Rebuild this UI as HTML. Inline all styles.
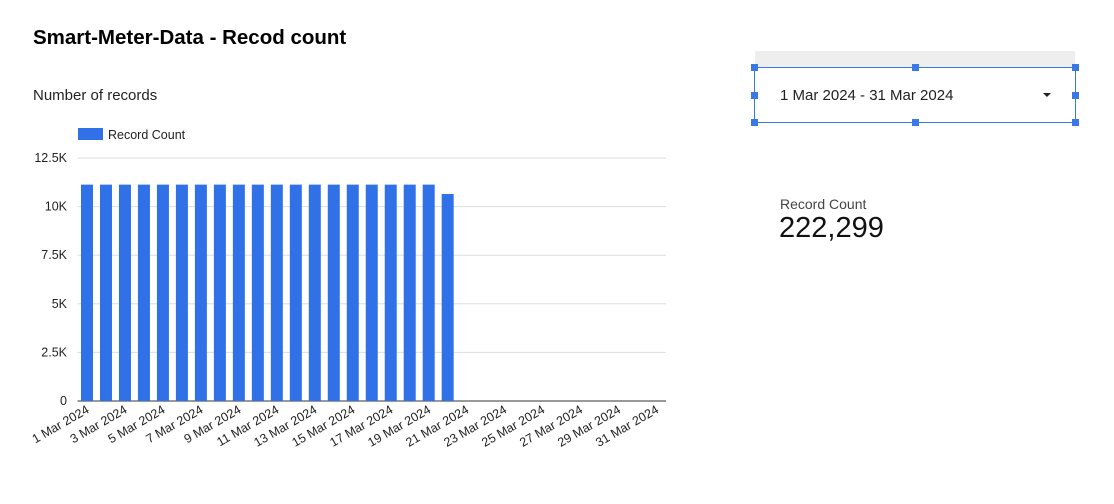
<!DOCTYPE html>
<html><head><meta charset="utf-8"><style>
body{margin:0;width:1114px;height:504px;background:#fff;font-family:"Liberation Sans",sans-serif;position:relative;overflow:hidden}
.a{position:absolute}
.h{position:absolute;width:7px;height:7px;background:#3b78e7}
</style></head><body>
<div class="a" style="left:33px;top:26px;font-size:20.5px;font-weight:bold;color:#000">Smart-Meter-Data - Recod count</div>
<div class="a" style="left:33px;top:87px;font-size:15px;color:#222">Number of records</div>
<div class="a" style="left:755px;top:51px;width:320px;height:17px;background:#eee"></div>
<div class="a" style="left:754px;top:67px;width:322px;height:56px;border:1px solid #3b78e7;box-sizing:border-box">
 <span class="a" style="left:25px;top:19px;font-size:15px;color:#222">1 Mar 2024 - 31 Mar 2024</span>
 <span class="a" style="left:288px;top:25px;width:0;height:0;border-left:4px solid transparent;border-right:4px solid transparent;border-top:4px solid #222"></span>
</div>
<div class="h" style="left:751px;top:64px"></div>
<div class="h" style="left:912px;top:64px"></div>
<div class="h" style="left:1072px;top:64px"></div>
<div class="h" style="left:751px;top:92px"></div>
<div class="h" style="left:1072px;top:92px"></div>
<div class="h" style="left:751px;top:119px"></div>
<div class="h" style="left:912px;top:119px"></div>
<div class="h" style="left:1072px;top:119px"></div>
<div class="a" style="left:780px;top:196px;font-size:14px;color:#444">Record Count</div>
<div class="a" style="left:779px;top:212px;font-size:29px;color:#111">222,299</div>
<svg class="a" style="left:0;top:0" width="1114" height="504" id="chart"></svg>
<script>
const categories=[];for(let d=1;d<=31;d++)categories.push(d+" Mar 2024");
const values=[11130,11130,11130,11130,11130,11130,11130,11130,11130,11130,11130,11130,11130,11130,11130,11130,11130,11130,11130,10650,0,0,0,0,0,0,0,0,0,0,0];
const yTicks=[0,2500,5000,7500,10000,12500];
const yTickLabels=["0","2.5K","5K","7.5K","10K","12.5K"];
const svg=document.getElementById('chart');const NS="http://www.w3.org/2000/svg";
const x0=77.5,x1=666,y0=401,y1=158,yMax=12500;
const step=(x1-x0)/categories.length;
const y=v=>y0-(v/yMax)*(y0-y1);
function mk(t,a){const e=document.createElementNS(NS,t);for(const k in a)e.setAttribute(k,a[k]);svg.appendChild(e);return e;}
yTicks.forEach((t,i)=>{
 const g=mk('line',{x1:x0,x2:x1,y1:y(t),y2:y(t),stroke:i==0?'#333':'#ddd','stroke-width':1});
 
 
 const l=mk('text',{x:67,y:y(t)+4,'text-anchor':'end','font-size':12.5,fill:'#222','font-family':'Liberation Sans'});
 l.textContent=yTickLabels[i];
 
 
});
values.forEach((v,i)=>{
 if(v<=0)return;
 const cx=x0+step*(i+0.5);
 const r=mk('rect',{x:cx-6,y:y(v),width:12,height:y0-y(v),fill:'#3071e8'});
 
 
});
categories.forEach((c,i)=>{
 if(i%2)return;
 const cx=x0+step*(i+0.5)+3;
 const t=mk('text',{x:cx,y:412,'text-anchor':'end','font-size':12.5,fill:'#222','font-family':'Liberation Sans',transform:`rotate(-30 ${cx} 412)`});
 t.textContent=c;
 
 
});
const lg=mk('rect',{x:78,y:128,width:25,height:12,fill:'#3071e8'});


const lt=mk('text',{x:108,y:139,'font-size':12.5,fill:'#222','font-family':'Liberation Sans'});
lt.textContent='Record Count';


</script>
</body></html>
